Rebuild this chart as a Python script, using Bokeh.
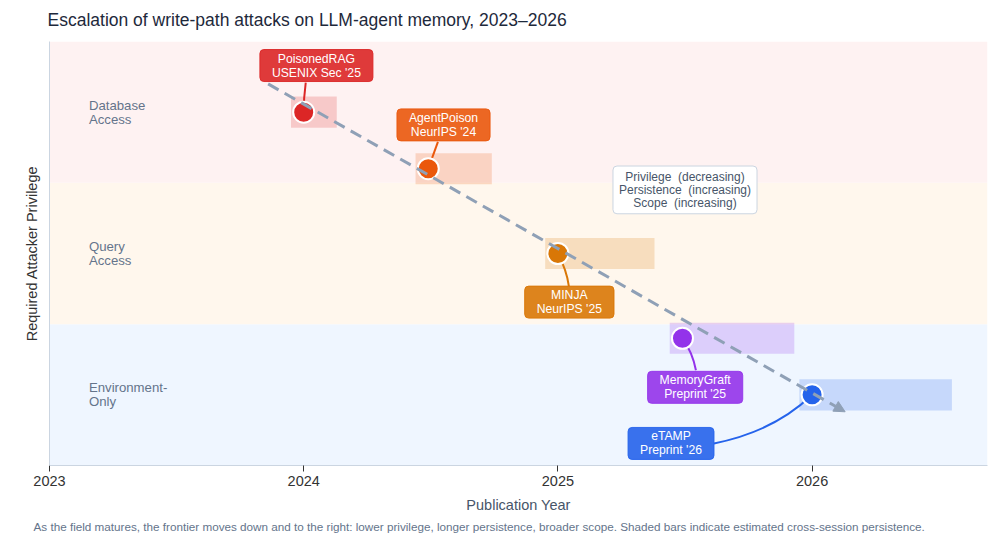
from bokeh.plotting import figure
from bokeh.models import Range1d, Title, Arrow, NormalHead, FixedTicker, ColumnDataSource
from bokeh.embed import file_html
from bokeh.resources import INLINE
from bokeh.core.properties import value

# ---- data ----
attacks = ["PoisonedRAG", "AgentPoison", "MINJA", "MemoryGraft", "eTAMP"]
venues = ["USENIX Sec '25", "NeurIPS '24", "NeurIPS '25", "Preprint '25", "Preprint '26"]
pub_year = [2024.0, 2024.49, 2025.0, 2025.49, 2026.0]
privilege = [2.5, 2.1, 1.5, 0.9, 0.5]
persistence = [0.18, 0.30, 0.43, 0.49, 0.60]
colors = ["#dc2626", "#ea580c", "#d97706", "#9333ea", "#2563eb"]

tiers = ["Environment-\nOnly", "Query\nAccess", "Database\nAccess"]
tier_bottom = [0, 1, 2]
tier_top = [1, 2, 3]
tier_colors = ["#eff6ff", "#fff7ed", "#fef2f2"]

x_ticks = [2023, 2024, 2025, 2026]
trend_x = [2023.86, 2026.13]
trend_y = [2.70, 0.38]

# annotation placement (box centres, leader starts, curve controls)
label_x = [2024.05, 2024.55, 2025.045, 2025.54, 2025.445]
label_y = [2.83, 2.41, 1.156, 0.553, 0.156]
lead_x0 = [2024.008, 2024.528, 2025.043, 2025.543, 2025.614]
lead_y0 = [2.709, 2.29, 1.27, 0.674, 0.156]
ctrl_x = [2024.0, 2024.51, 2025.035, 2025.53, 2025.85]
ctrl_y = [2.6, 2.2, 1.38, 0.80, 0.24]

FONT = "Liberation Sans"
TREND = "#8fa0b6"

p = figure(width=989, height=540, output_backend="svg", toolbar_location=None,
           x_range=Range1d(2023, 2026.69), y_range=Range1d(0, 3),
           min_border_left=49, min_border_right=2, min_border_top=41, min_border_bottom=75)
p.outline_line_color = None
p.grid.visible = False
p.background_fill_color = "white"

p.title.text = "Escalation of write-path attacks on LLM-agent memory, 2023\u20132026"
p.title.text_font = FONT
p.title.text_font_size = "17.5px"
p.title.text_font_style = "normal"
p.title.text_color = "#1e293b"
p.title.offset = -2
p.title.standoff = 19
p.title.vertical_align = "top"

# tier bands
p.quad(left=2023, right=2026.69, bottom=tier_bottom, top=tier_top,
       fill_color=tier_colors, line_color=None)
tier_src = ColumnDataSource(dict(x=[2023.155] * 3, y=[(b + t) / 2 for b, t in zip(tier_bottom, tier_top)], t=tiers))
p.text(x="x", y="y", text="t", source=tier_src, text_font=value(FONT), text_font_size="13.2px",
       text_color="#64748b", text_align="left", text_baseline="middle", text_line_height=0.93)

# persistence bars
bar_left = [x - 0.05 for x in pub_year]
bar_right = [x - 0.05 + w for x, w in zip(pub_year, persistence)]
p.quad(left=bar_left, right=bar_right, bottom=[y - 0.11 for y in privilege],
       top=[y + 0.11 for y in privilege], fill_color=colors, fill_alpha=0.2, line_color=None)

# trend arrow
p.add_layout(Arrow(end=NormalHead(size=11, fill_color=TREND, line_color=TREND),
                   x_start=trend_x[0], y_start=trend_y[0], x_end=trend_x[1], y_end=trend_y[1],
                   line_color=TREND, line_width=3, line_dash="12 7"))

# leader lines
p.quadratic(x0=lead_x0, y0=lead_y0, x1=pub_year, y1=privilege, cx=ctrl_x, cy=ctrl_y,
            line_color=colors, line_width=2)

# points
p.scatter(pub_year, privilege, size=21, fill_color=colors, line_color="white", line_width=2)

# labels
lab_src = ColumnDataSource(dict(x=label_x, y=label_y,
                                t=[a + "\n" + v for a, v in zip(attacks, venues)], c=colors))
p.text(x="x", y="y", text="t", source=lab_src, text_font=value(FONT), text_font_size="12.2px",
       text_color="white", text_align="center", text_baseline="middle", text_line_height=1.0,
       background_fill_color="c", background_fill_alpha=0.9, border_line_color="c",
       border_line_alpha=0.9, padding=[12, 2], border_radius=4)

# info box
info = "Privilege \u00a0(decreasing)\nPersistence \u00a0(increasing)\nScope \u00a0(increasing)"
p.text(x=[2025.50], y=[1.95], text=[info], text_font=value(FONT), text_font_size="12px",
       text_color="#475569", text_align="center", text_baseline="middle", text_line_height=0.92,
       background_fill_color="white", border_line_color="#cbd5e1", border_line_width=1,
       padding=[6, 4], border_radius=4)

# axes
p.xaxis.ticker = FixedTicker(ticks=x_ticks)
p.xaxis.minor_tick_line_color = None
p.xaxis.axis_line_color = "#cbd5e1"
p.xaxis.major_tick_line_color = "#333333"
p.xaxis.major_tick_out = 6
p.xaxis.major_tick_in = 0
p.xaxis.major_label_text_font = FONT
p.xaxis.major_label_text_font_size = "14.5px"
p.xaxis.major_label_text_color = "#333333"
p.xaxis.major_label_standoff = 4
p.xaxis.axis_label = "Publication Year"
p.xaxis.axis_label_text_font = FONT
p.xaxis.axis_label_text_font_size = "14.5px"
p.xaxis.axis_label_text_font_style = "normal"
p.xaxis.axis_label_text_color = "#475569"
p.xaxis.axis_label_standoff = 8

p.yaxis.ticker = FixedTicker(ticks=[])
p.yaxis.minor_tick_line_color = None
p.yaxis.major_tick_line_color = None
p.yaxis.axis_line_color = "#cbd5e1"
p.yaxis.axis_label = "Required Attacker Privilege"
p.yaxis.axis_label_text_font = FONT
p.yaxis.axis_label_text_font_size = "14.5px"
p.yaxis.axis_label_text_font_style = "normal"
p.yaxis.axis_label_text_color = "#333333"
p.yaxis.axis_label_standoff = 10

cap = Title(text="As the field matures, the frontier moves down and to the right: lower privilege, longer persistence, broader scope. Shaded bars indicate estimated cross-session persistence.",
            text_font=FONT, text_font_size="11.7px", text_font_style="normal", text_color="#64748b",
            align="left", offset=-16, standoff=4)
p.add_layout(cap, "below")

open("out.html", "w").write(file_html(p, INLINE))
